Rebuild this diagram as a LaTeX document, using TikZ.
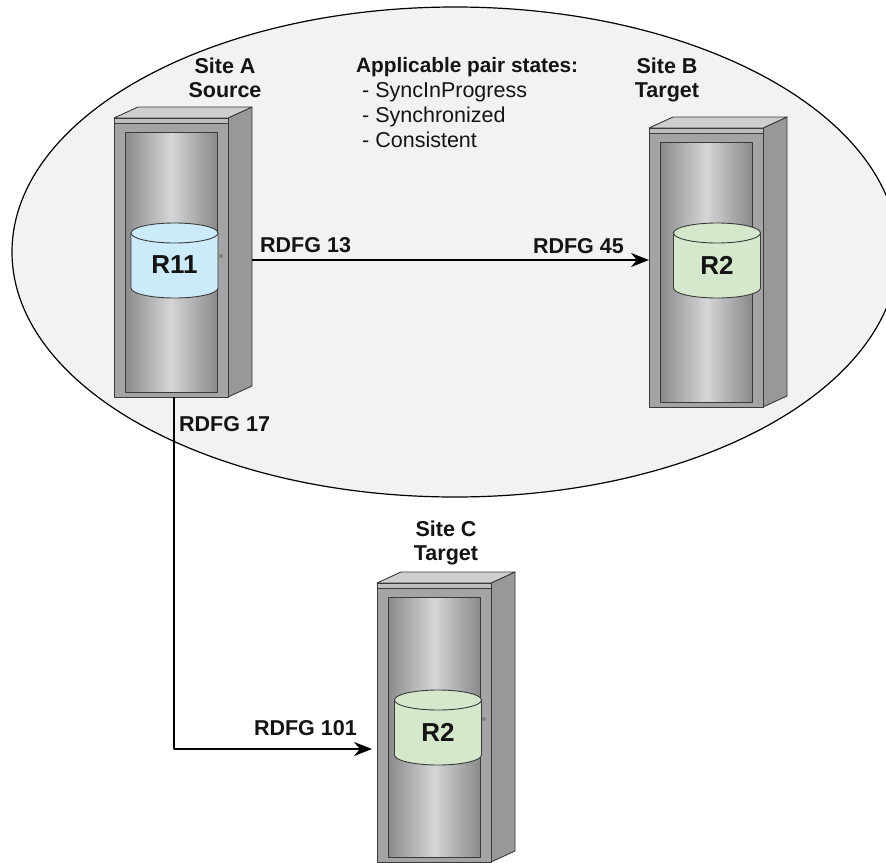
\documentclass[tikz,border=0pt]{standalone}
\usepackage{fontspec}
\setmainfont{Liberation Sans}
\usetikzlibrary{arrows.meta,calc}

\definecolor{pane}{HTML}{F2F2F2}
\definecolor{framegray}{HTML}{A4A4A6}
\definecolor{sideface}{HTML}{98989A}
\definecolor{topface}{HTML}{CFCFD1}
\definecolor{stripgray}{HTML}{BDBDBF}
\definecolor{panelDark}{HTML}{8A8A8C}
\definecolor{panelLight}{HTML}{D6D6D8}
\definecolor{edgegray}{HTML}{3A3A3A}
\definecolor{diskblue}{HTML}{CCEBFA}
\definecolor{diskgreen}{HTML}{D5E8CC}
\definecolor{ink}{HTML}{141414}

\tikzset{
  cabfront/.style={rectangle, draw=edgegray, fill=framegray, line width=0.9pt,
    minimum width=114pt, minimum height=279pt, inner sep=0pt},
  cabline/.style={draw=edgegray, line width=0.9pt},
  link/.style={draw=black, line width=1.2pt},
  linkarrow/.style={link, -{Stealth[length=18pt,width=14pt]}},
  sitelabel/.style={font=\fontsize{21.5}{25}\selectfont\bfseries, text=ink, inner sep=0pt},
  statetext/.style={font=\fontsize{21.5}{25}\selectfont, text=ink, inner sep=0pt},
  headlabel/.style={font=\fontsize{20.8}{25}\selectfont\bfseries, text=ink, inner sep=0pt},
  grouplabel/.style={font=\fontsize{21.5}{25}\selectfont\bfseries, text=ink, inner sep=0pt},
  disklabel/.style={font=\fontsize{26}{30}\selectfont\bfseries, text=ink, inner sep=0pt},
}

% storage cabinet: #1 name, #2 left x, #3 top y of the front face
\newcommand\storagecabinet[3]{%
  \begin{scope}[shift={(#2,#3)}]
    \filldraw[cabline, fill=sideface] (114,0) -- (138,-11) -- (138,268) -- (114,279) -- cycle;
    \filldraw[cabline, fill=topface] (0,0) -- (24,-11) -- (138,-11) -- (114,0) -- cycle;
    \node[cabfront, anchor=north west] (#1) at (0,0) {};
    \fill[stripgray] (0.5,0.5) rectangle (113.5,5);
    \draw[cabline] (0,5) -- (114,5);
    \shade[left color=panelDark, right color=panelDark, middle color=panelLight]
      (11,14) rectangle (103,274);
    \draw[edgegray, line width=0.8pt] (11,14) rectangle (103,274);
    \coordinate (#1-east) at (138,142);
    \coordinate (#1-down) at (60,279);
    \coordinate (#1-in) at (-5,166);
  \end{scope}}

% disk cylinder: #1 name, #2 centre x, #3 y of top ellipse centre, #4 fill, #5 text
\newcommand\diskvolume[5]{%
  \begin{scope}[shift={(#2,#3)}]
    \filldraw[fill=#4, draw=edgegray, line width=0.9pt]
      (-43.5,0) -- (-43.5,55) arc[start angle=180, end angle=0, x radius=43.5, y radius=10]
      -- (43.5,0) -- cycle;
    \filldraw[fill=#4, draw=edgegray, line width=0.9pt] (0,0) ellipse [x radius=43.5, y radius=10];
    \node[disklabel] (#1) at (0,32) {#5};
  \end{scope}}

\begin{document}
\begin{tikzpicture}[x=1pt, y=-1pt, line join=round]
  \useasboundingbox (0,0) rectangle (886,862);
  \clip (0,0) rectangle (886,862);
  \fill[white] (0,0) rectangle (886,862);

  % replication domain
  \filldraw[fill=pane, draw=black, line width=1.2pt] (455,252) ellipse [x radius=443, y radius=245];

  % cabinets
  \storagecabinet{A}{114}{118}
  \storagecabinet{B}{649}{128}
  \storagecabinet{C}{377}{583}

  % devices
  \diskvolume{R11}{174.5}{233}{diskblue}{R11}
  \diskvolume{R2B}{717}{233}{diskgreen}{R2}
  \diskvolume{R2C}{438}{700}{diskgreen}{R2}
  \fill[gray] (221,256) circle (2);
  \fill[gray] (484,719) circle (2);

  % site titles
  \node[sitelabel, anchor=base] (sa1) at (225,73) {Site A};
  \node[sitelabel, anchor=base] (sa2) at (225,97) {Source};
  \node[sitelabel, anchor=base] (sb1) at (667,73) {Site B};
  \node[sitelabel, anchor=base] (sb2) at (667,97) {Target};
  \node[sitelabel, anchor=base] (sc1) at (446,536) {Site C};
  \node[sitelabel, anchor=base] (sc2) at (446,560) {Target};

  % pair states
  \node[headlabel, anchor=base west] (st0) at (356,72) {Applicable pair states:};
  \node[statetext, anchor=base west] (st1) at (362,97) {- SyncInProgress};
  \node[statetext, anchor=base west] (st2) at (362,122) {- Synchronized};
  \node[statetext, anchor=base west] (st3) at (362,147) {- Consistent};

  % links
  \draw[linkarrow] (A-east) -- (A-east -| B.west);
  \draw[linkarrow] (A-down) |- (C-in);

  \node[grouplabel, anchor=base west] (g13) at (260,252) {RDFG 13};
  \node[grouplabel, anchor=base east] (g45) at (624,253) {RDFG 45};
  \node[grouplabel, anchor=base west] (g17) at (179,431) {RDFG 17};
  \node[grouplabel, anchor=base east] (g101) at (357,735) {RDFG 101};
\end{tikzpicture}
\end{document}
